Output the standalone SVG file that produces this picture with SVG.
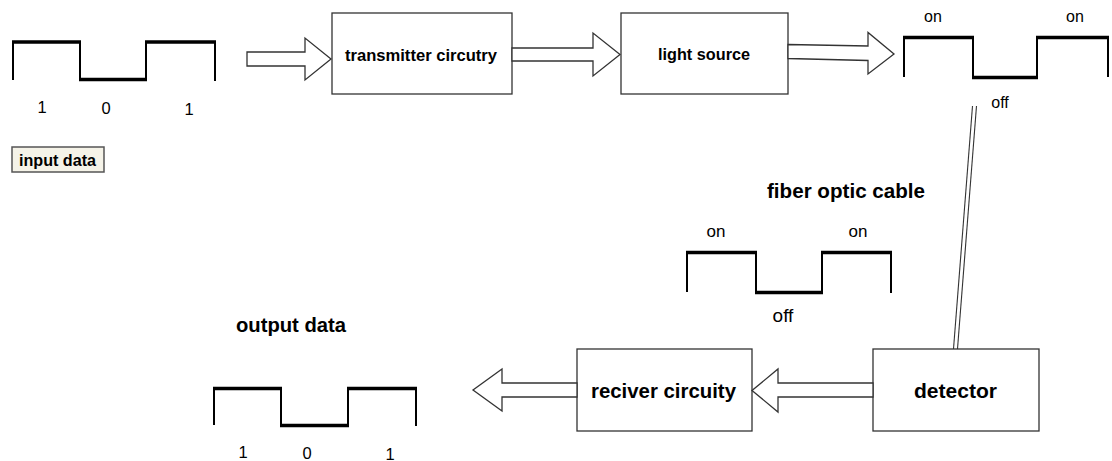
<svg xmlns="http://www.w3.org/2000/svg" width="1112" height="461" viewBox="0 0 1112 461">
<style>
.box{fill:#fff;stroke:#333;stroke-width:1.3}
.arrow{fill:#fff;stroke:#333;stroke-width:1.3;stroke-linejoin:miter}
.wave{fill:none;stroke:#000;stroke-linejoin:miter}
.wh{stroke-width:3.5}
.wv{stroke-width:2}
.t{font-family:"Liberation Sans",Arial,sans-serif;fill:#000;text-anchor:middle}
.b{font-weight:bold}
.fiber{stroke:#333;stroke-width:1.1;fill:none}
</style>
<rect width="1112" height="461" fill="#fff"/>

<g id="input-wave">
  <path class="wave wv" d="M13,80 V42 M80,42 V80 M146,80 V42 M215,42 V81"/>
  <path class="wave wh" d="M12,42 H81 M79,79.5 H147 M145,42 H216"/>
  <text class="t" x="42" y="113" font-size="16.5">1</text>
  <text class="t" x="106" y="114" font-size="16.5">0</text>
  <text class="t" x="189" y="115" font-size="16.5">1</text>
</g>

<g id="input-data">
  <rect x="12" y="147" width="92" height="25" fill="#f5f3e8" stroke="#555" stroke-width="1.5"/>
  <text class="t b" x="57.5" y="166" font-size="16" textLength="77" lengthAdjust="spacingAndGlyphs">input data</text>
</g>

<g id="transmitter">
  <rect class="box" x="332" y="13" width="180" height="81"/>
  <text class="t b" x="421" y="61" font-size="16.5" textLength="152" lengthAdjust="spacingAndGlyphs">transmitter circutry</text>
</g>

<g id="light-source">
  <rect class="box" x="621" y="13" width="167" height="81"/>
  <text class="t b" x="704" y="60" font-size="16.5" textLength="92" lengthAdjust="spacingAndGlyphs">light source</text>
</g>

<g id="onoff-top">
  <path class="wave wv" d="M904,77 V37 M973,37 V78 M1037,78 V37 M1108,37 V77"/>
  <path class="wave wh" d="M903,37.5 H974 M972,77.5 H1038 M1036,37.5 H1109"/>
  <text class="t" x="933" y="22" font-size="16">on</text>
  <text class="t" x="1075" y="22" font-size="16">on</text>
  <text class="t" x="1000" y="108" font-size="16">off</text>
</g>

<g id="fiber-label">
  <text class="t b" x="846" y="198" font-size="20" textLength="158" lengthAdjust="spacingAndGlyphs">fiber optic cable</text>
</g>

<g id="onoff-mid">
  <path class="wave wv" d="M687,292 V252 M756,252 V293 M822,293 V252 M891,252 V293"/>
  <path class="wave wh" d="M686,252.5 H757 M755,292.5 H823 M821,252.5 H892"/>
  <text class="t" x="716" y="237" font-size="17">on</text>
  <text class="t" x="858" y="237" font-size="17">on</text>
  <text class="t" x="783" y="322" font-size="19">off</text>
</g>

<g id="output-label">
  <text class="t b" x="291" y="332" font-size="20" textLength="110" lengthAdjust="spacingAndGlyphs">output data</text>
</g>

<g id="output-wave">
  <path class="wave wv" d="M214,425 V388 M281,388 V426 M348,426 V388 M416,388 V426"/>
  <path class="wave wh" d="M213,388.5 H282 M280,425.5 H349 M347,388.5 H417"/>
  <text class="t" x="243" y="458" font-size="16.5">1</text>
  <text class="t" x="307" y="459" font-size="16.5">0</text>
  <text class="t" x="390" y="460" font-size="16.5">1</text>
</g>

<g id="receiver">
  <rect class="box" x="577" y="349" width="175" height="82"/>
  <text class="t b" x="663.5" y="398" font-size="20" textLength="145" lengthAdjust="spacingAndGlyphs">reciver circuity</text>
</g>

<g id="detector">
  <rect class="box" x="873" y="349" width="166" height="82"/>
  <text class="t b" x="955.5" y="398" font-size="20" textLength="83" lengthAdjust="spacingAndGlyphs">detector</text>
</g>

<g id="connectors">
  <polygon class="arrow" points="247,52 305,52 305,38 331,59 305,80 305,66 247,66"/>
  <polygon class="arrow" points="512,48 593,48 593,33 620,54.5 593,76 593,61 512,61"/>
  <polygon class="arrow" points="788,44.5 868,46 868,32.5 894,54 868,74 868,60.5 788,58.5"/>
  <polygon class="arrow" points="873,383 778,383 778,369 752,390.5 778,412 778,397 873,397"/>
  <polygon class="arrow" points="577,383 502,383 502,369 473,390 502,411 502,397 577,397"/>
  <line class="fiber" x1="972.5" y1="106" x2="953.5" y2="349"/>
  <line class="fiber" x1="976.5" y1="106" x2="957.5" y2="349"/>
</g>
</svg>
